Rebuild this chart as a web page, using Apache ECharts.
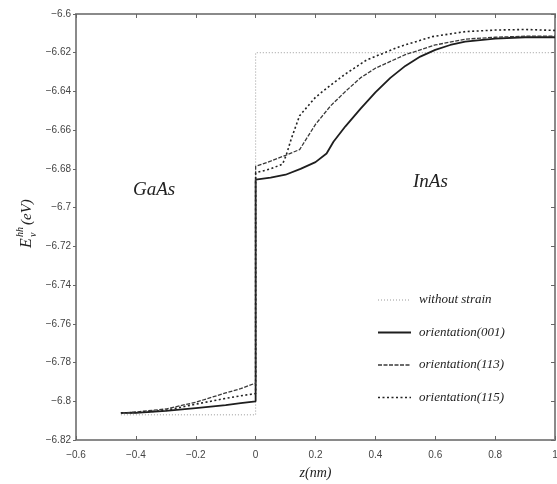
<!DOCTYPE html>
<html>
<head>
<meta charset="utf-8">
<script src="https://cdn.jsdelivr.net/npm/echarts@6/dist/echarts.min.js"></script>
<style>
  html, body { margin: 0; padding: 0; background: #fff; }
  #main { width: 557px; height: 484px; }
</style>
</head>
<body>
<div id="main"></div>
<script>
// tick values
var xTicks = [-0.6, -0.4, -0.2, 0, 0.2, 0.4, 0.6, 0.8, 1];
var yTicks = [-6.82, -6.8, -6.78, -6.76, -6.74, -6.72, -6.7, -6.68, -6.66, -6.64, -6.62, -6.6];

// without strain
var zNoStrain = [-0.45, 0, 0, 1];
var eNoStrain = [-6.807, -6.807, -6.62, -6.62];

// orientation(001)
var z001 = [-0.45, -0.4, -0.3, -0.2, -0.1, -0.05, 0, 0, 0.05, 0.1, 0.15, 0.2, 0.237, 0.26, 0.3, 0.35, 0.4, 0.45, 0.5, 0.55, 0.6, 0.65, 0.7, 0.8, 0.9, 1];
var e001 = [-6.806, -6.806, -6.805, -6.8035, -6.802, -6.801, -6.800, -6.6855, -6.6845, -6.683, -6.680, -6.6765, -6.672, -6.666, -6.658, -6.649, -6.6405, -6.633, -6.6268, -6.622, -6.6185, -6.616, -6.6143, -6.6127, -6.612, -6.612];

// orientation(113)
var z113 = [-0.45, -0.4, -0.3, -0.2, -0.1, -0.05, 0, 0, 0.05, 0.1, 0.147, 0.2, 0.25, 0.3, 0.35, 0.4, 0.45, 0.5, 0.6, 0.7, 0.8, 0.9, 1];
var e113 = [-6.806, -6.8055, -6.804, -6.8005, -6.7957, -6.7935, -6.7906, -6.6787, -6.676, -6.673, -6.670, -6.657, -6.6475, -6.640, -6.633, -6.628, -6.6245, -6.621, -6.616, -6.613, -6.612, -6.6115, -6.6115];

// orientation(115)
var z115 = [-0.45, -0.4, -0.3, -0.2, -0.1, -0.05, 0, 0, 0.05, 0.09, 0.102, 0.12, 0.147, 0.2, 0.25, 0.3, 0.37, 0.48, 0.59, 0.7, 0.8, 0.9, 1];
var e115 = [-6.806, -6.8058, -6.8047, -6.8015, -6.7985, -6.7972, -6.796, -6.682, -6.680, -6.6775, -6.673, -6.664, -6.6525, -6.643, -6.6368, -6.631, -6.6238, -6.6169, -6.6117, -6.6091, -6.6083, -6.608, -6.6085];

var names = ['without strain', 'orientation(001)', 'orientation(113)', 'orientation(115)'];
var colors = ['#9a9a9a', '#1e1e1e', '#3a3a3a', '#222'];
var widths = [1, 1.8, 1.3, 1.6];
var dashes = [[1, 2], 'solid', [4, 1.5], [2, 2.5]];

function pairs(zs, es) {
    var out = [];
    for (var i = 0; i < zs.length; i++) out.push([zs[i], es[i]]);
    return out;
}
function fmt(v) {
    return String(parseFloat(v.toFixed(2))).replace('-', '\u2212');
}

var chart = echarts.init(document.getElementById('main'));

var serif = 'Liberation Serif, Times New Roman, serif';
var axisLine = { onZero: false, lineStyle: { color: '#8a8a8a', width: 2 } };
var tickFont = { fontFamily: 'Liberation Sans, Arial, sans-serif', fontSize: 10, color: '#444' };

// legend drawn by hand so that only the line sample shows
var legendItems = [];
names.forEach(function (n, i) {
    var y = 300 + i * 32.5;
    legendItems.push({
        type: 'line', shape: { x1: 378, y1: y, x2: 411, y2: y },
        style: { stroke: colors[i], lineWidth: widths[i], lineDash: dashes[i] === 'solid' ? null : dashes[i] }
    });
    legendItems.push({
        type: 'text', x: 419, y: y,
        style: { text: n, fontFamily: serif, fontStyle: 'italic', fontSize: 13, fill: '#222', verticalAlign: 'middle' }
    });
});

var option = {
    backgroundColor: '#fff',
    animation: false,
    grid: { left: 76, right: 2, top: 14, bottom: 44, outerBoundsMode: 'none' },
    xAxis: [{
        type: 'value',
        min: -0.6, max: 1, interval: 0.2,
        name: 'z(nm)',
        nameLocation: 'middle',
        nameGap: 26,
        nameTextStyle: { fontFamily: serif, fontStyle: 'italic', fontSize: 14, color: '#222' },
        axisLine: axisLine,
        axisTick: { inside: true, length: 4, lineStyle: { color: '#666' } },
        axisLabel: Object.assign({ margin: 10, formatter: fmt }, tickFont),
        splitLine: { show: false }
    }, {
        type: 'value', position: 'top',
        min: -0.6, max: 1, interval: 0.2,
        axisLine: axisLine,
        axisTick: { inside: true, length: 4, lineStyle: { color: '#666' } },
        axisLabel: { show: false },
        splitLine: { show: false }
    }],
    yAxis: [{
        type: 'value',
        min: -6.82, max: -6.6, interval: 0.02,
        axisLine: axisLine,
        axisTick: { inside: false, length: 3, lineStyle: { color: '#666' } },
        axisLabel: Object.assign({ margin: 5, formatter: fmt }, tickFont),
        splitLine: { show: false }
    }, {
        type: 'value', position: 'right',
        min: -6.82, max: -6.6, interval: 0.02,
        axisLine: axisLine,
        axisTick: { inside: true, length: 4, lineStyle: { color: '#666' } },
        axisLabel: { show: false },
        splitLine: { show: false }
    }],
    graphic: [
        {
            type: 'text', left: 133, top: 180,
            style: { text: 'GaAs', fontFamily: serif, fontStyle: 'italic', fontSize: 19, fill: '#222' }
        },
        {
            type: 'text', left: 413, top: 172,
            style: { text: 'InAs', fontFamily: serif, fontStyle: 'italic', fontSize: 19, fill: '#222' }
        },
        {
            type: 'group', x: 27, y: 248, rotation: Math.PI / 2,
            children: [
                { type: 'text', x: 0, y: 0, style: { text: 'E', fontFamily: serif, fontStyle: 'italic', fontSize: 16, fill: '#222', verticalAlign: 'middle' } },
                { type: 'text', x: 11, y: -7, style: { text: 'hh', fontFamily: serif, fontStyle: 'italic', fontSize: 10, fill: '#222', verticalAlign: 'middle' } },
                { type: 'text', x: 11, y: 6, style: { text: 'v', fontFamily: serif, fontStyle: 'italic', fontSize: 10, fill: '#222', verticalAlign: 'middle' } },
                { type: 'text', x: 23, y: 0, style: { text: '(eV)', fontFamily: serif, fontStyle: 'italic', fontSize: 15, fill: '#222', verticalAlign: 'middle' } }
            ]
        },
        { type: 'group', children: legendItems }
    ],
    series: [
        { zs: zNoStrain, es: eNoStrain },
        { zs: z001, es: e001 },
        { zs: z113, es: e113 },
        { zs: z115, es: e115 }
    ].map(function (s, i) {
        return {
            name: names[i], type: 'line', showSymbol: false, symbol: 'none',
            data: pairs(s.zs, s.es),
            lineStyle: { color: colors[i], width: widths[i], type: dashes[i] },
            itemStyle: { color: colors[i] }
        };
    })
};

chart.setOption(option);
</script>
</body>
</html>
